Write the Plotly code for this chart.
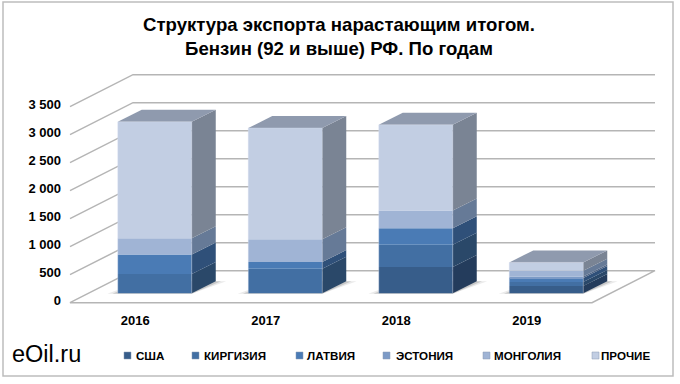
import plotly.graph_objects as go

# ---------- data ----------
YEARS = ["2016", "2017", "2018", "2019"]
SERIES = ["США", "КИРГИЗИЯ", "ЛАТВИЯ", "ЭСТОНИЯ", "МОНГОЛИЯ", "ПРОЧИЕ"]
USA = [0, 0, 470, 130]
KIRGIZIA = [345, 435, 393, 70]
LATVIA = [345, 120, 298, 70]
ESTONIA = [0, 0, 0, 30]
MONGOLIA = [290, 410, 315, 100]
OTHER = [2080, 1985, 1530, 150]
Y_TICKS = [0, 500, 1000, 1500, 2000, 2500, 3000, 3500]
Y_LABELS = ["0", "500", "1 000", "1 500", "2 000", "2 500", "3 000", "3 500"]

# ---------- style / projection ----------
VALUES = [USA, KIRGIZIA, LATVIA, ESTONIA, MONGOLIA, OTHER]
FRONT = ["#375D8A", "#426FA3", "#4A7BB5", "#7C9AC6", "#A0B4D5", "#C2CEE3"]
SIDE = ["#243C5C", "#2A4869", "#2F5079", "#4F6485", "#667A97", "#7A8494"]
TOP = "#8F9AAE"
GRID = "#B5B5B5"
W, H = 680, 384
PL, PR, PT, PB = 62, 665, 60, 310          # plot box, px
UNIT_X = 130.5                              # px per category
UNIT_Y = 0.056                              # px per value unit
XMIN = -0.5 + (PL - 70) / UNIT_X
XMAX = -0.5 + (PR - 70) / UNIT_X
YMIN = (302.7 - PB) / UNIT_Y
YMAX = (302.7 - PT) / UNIT_Y
DEPTH_X = 63 / UNIT_X                       # floor depth
DEPTH_Y = 32 / UNIT_Y
BAR_W = 74 / UNIT_X
BAR_DX = 19.5 / UNIT_X                      # bar shift into the floor
BAR_DY = 9.5 / UNIT_Y
BAR_DEPTH_X = 24 / UNIT_X
BAR_DEPTH_Y = 12 / UNIT_Y
N = len(YEARS)

fig = go.Figure()


def poly(xs, ys, fill, line="rgba(0,0,0,0)", width=0, axes=("x", "y")):
    fig.add_trace(go.Scatter(
        x=xs, y=ys, mode="lines", fill="toself", fillcolor=fill,
        line=dict(color=line, width=width), hoverinfo="skip", showlegend=False,
        xaxis=axes[0], yaxis=axes[1]))


def line(xs, ys):
    fig.add_trace(go.Scatter(
        x=xs, y=ys, mode="lines", line=dict(color=GRID, width=1.5),
        hoverinfo="skip", showlegend=False))


# floor, left wall and back-wall rules, all derived from the value ticks
x0, x1 = -0.5, N - 0.5
line([x0 + DEPTH_X, x1 + DEPTH_X, x1, x0, x0 + DEPTH_X],
     [DEPTH_Y, DEPTH_Y, 0, 0, DEPTH_Y])
for t in Y_TICKS[1:]:
    line([x0, x0 + DEPTH_X, x1 + DEPTH_X], [t, t + DEPTH_Y, t + DEPTH_Y])

# soft floor shadows
for i in range(N):
    a = i - BAR_W / 2 + BAR_DX
    b = a + BAR_W
    for spread, col in ((0.08, "rgba(140,140,140,0.18)"), (0.04, "rgba(100,100,100,0.25)")):
        poly([a - spread, b, b + BAR_DEPTH_X + spread, a + BAR_DEPTH_X],
             [BAR_DY - 10, BAR_DY - 10, BAR_DY + BAR_DEPTH_Y, BAR_DY + BAR_DEPTH_Y], col)

# front faces: real stacked bars on an overlaid axis pair
bases = [[BAR_DY] * N]
for vals in VALUES:
    bases.append([b + v for b, v in zip(bases[-1], vals)])
centres = [i + BAR_DX for i in range(N)]
for k, name in enumerate(SERIES):
    fig.add_trace(go.Bar(
        x=centres, y=VALUES[k], base=bases[k], width=BAR_W, name=name,
        marker=dict(color=FRONT[k], line=dict(width=0)),
        showlegend=False, xaxis="x2", yaxis="y2",
        hovertemplate=name + ": %{y}<extra></extra>"))

# side and top faces follow each stacked value
for i in range(N):
    r = centres[i] + BAR_W / 2
    for k in range(len(SERIES)):
        lo, hi = bases[k][i], bases[k + 1][i]
        if hi > lo:
            poly([r, r + BAR_DEPTH_X, r + BAR_DEPTH_X, r],
                 [lo, lo + BAR_DEPTH_Y, hi + BAR_DEPTH_Y, hi], SIDE[k], axes=("x2", "y2"))
    l = r - BAR_W
    top = bases[-1][i]
    poly([l, r, r + BAR_DEPTH_X, l + BAR_DEPTH_X],
         [top, top, top + BAR_DEPTH_Y, top + BAR_DEPTH_Y], TOP, axes=("x2", "y2"))
    # pale highlight along the front edge
    fig.add_trace(go.Scatter(
        x=[l, l, r, r], y=[BAR_DY, top, top, BAR_DY], mode="lines",
        line=dict(color="rgba(215,224,240,0.35)", width=1), hoverinfo="skip",
        showlegend=False, xaxis="x2", yaxis="y2"))

axis_common = dict(range=[XMIN, XMAX], domain=[PL / W, PR / W], showgrid=False, zeroline=False)
yaxis_common = dict(range=[YMIN, YMAX], domain=[1 - PB / H, 1 - PT / H], showgrid=False, zeroline=False)

# hand-placed legend, matching the reference's uneven spacing
LEG_SWATCH_X = [124, 192, 296, 383, 483, 592]
LEG_TEXT_X = [136, 204, 307, 396, 494, 601]
LEG_Y = 355.5
annotations = [
    dict(text="Структура экспорта нарастающим итогом.<br>Бензин (92 и выше) РФ. По годам",
         x=339 / W, y=1 - 36 / H, xref="paper", yref="paper", showarrow=False,
         font=dict(family="Liberation Sans", size=18.6, color="black", weight="bold"),
         align="center", xanchor="center", yanchor="middle"),
    dict(text="eOil.ru", x=12 / W, y=1 - 354 / H, xref="paper", yref="paper", showarrow=False,
         font=dict(family="Liberation Sans", size=23.5, color="black"),
         xanchor="left", yanchor="middle", xshift=-2),
]
shapes = [dict(type="rect", xref="paper", yref="paper", x0=3 / W, x1=673 / W,
               y0=1 - 376 / H, y1=1 - 2 / H, line=dict(color="#BDBDBD", width=1.5),
               fillcolor="rgba(0,0,0,0)", layer="above")]
for k, name in enumerate(SERIES):
    annotations.append(dict(
        text=name, x=LEG_TEXT_X[k] / W, y=1 - LEG_Y / H, xref="paper", yref="paper",
        showarrow=False, xanchor="left", yanchor="middle", xshift=-2,
        font=dict(family="Liberation Sans", size=11.6, color="black", weight="bold")))
    shapes.append(dict(
        type="rect", xref="paper", yref="paper",
        x0=LEG_SWATCH_X[k] / W, x1=(LEG_SWATCH_X[k] + 7) / W,
        y0=1 - (LEG_Y + 3.5) / H, y1=1 - (LEG_Y - 3.5) / H,
        fillcolor=FRONT[k], line=dict(color="#8A9BB3", width=0.5)))

tick_font = dict(family="Liberation Sans", size=13, color="black", weight="bold")
fig.update_layout(
    width=W, height=H, autosize=False,
    margin=dict(l=0, r=0, t=0, b=0),
    paper_bgcolor="white", plot_bgcolor="white",
    barmode="overlay", showlegend=False,
    annotations=annotations, shapes=shapes,
    xaxis=dict(**axis_common, tickmode="array", tickvals=list(range(N)), ticktext=YEARS,
               tickfont=tick_font, ticks="", showline=False, ticklabelstandoff=1),
    yaxis=dict(**yaxis_common, tickmode="array", tickvals=Y_TICKS, ticktext=Y_LABELS,
               tickfont=tick_font, ticks="", showline=False, ticklabelshift=-2),
    xaxis2=dict(**axis_common, overlaying="x", visible=False),
    yaxis2=dict(**yaxis_common, overlaying="y", visible=False),
)

fig.write_html("out.html", post_script="document.body.style.margin='0';",
               config={"displayModeBar": False})
